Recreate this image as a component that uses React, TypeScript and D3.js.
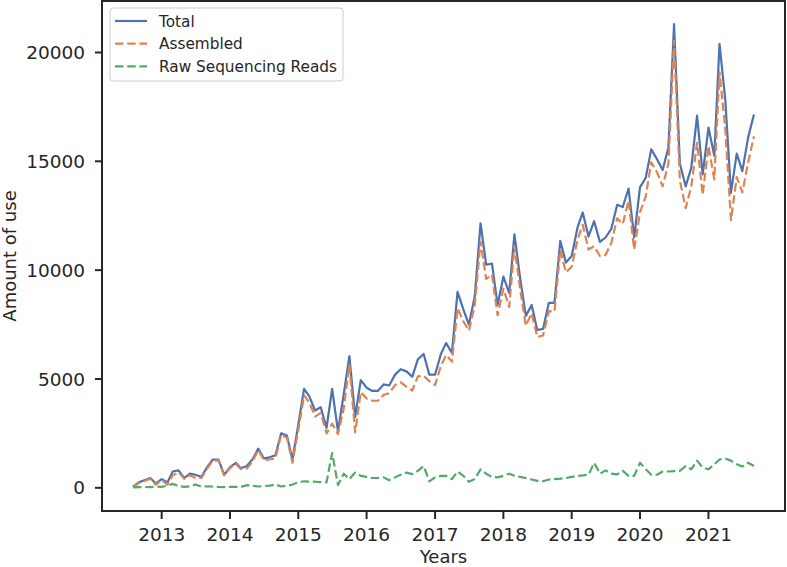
import React from "react";
import * as d3 from "d3";

const startMonth = new Date(2012, 7, 1);
const endMonth = new Date(2021, 9, 1);
const months: Date[] = d3.timeMonth.range(startMonth, endMonth);

const totalValues = [
  50, 250, 350, 450, 200, 400, 250, 750, 800, 450, 650, 600, 500, 950, 1300, 1300, 600, 950, 1150, 900,
  1000, 1300, 1800, 1350, 1400, 1500, 2500, 2400, 1300, 2900, 4550, 4200, 3550, 3700, 2750, 4550, 2600, 4300, 6050, 3250,
  4950, 4600, 4450, 4450, 4750, 4700, 5200, 5450, 5350, 5100, 5900, 6150, 5200, 5200, 6150, 6650, 6200, 9000, 8200, 7500,
  8800, 12150, 10250, 10300, 8400, 9700, 8950, 11650, 9600, 7900, 8400, 7250, 7300, 8500, 8500, 11350, 10350, 10650, 11950, 12650,
  11550, 12250, 11300, 11500, 11900, 13000, 12900, 13750, 11500, 13800, 14250, 15550, 15100, 14600, 15650, 21300, 14900, 13850, 14700, 17100,
  14400, 16550, 15250, 20400, 17800, 13550, 15350, 14550, 16100, 17150,
];

const assembledValues = [
  30, 220, 310, 420, 140, 360, 150, 570, 720, 410, 580, 450, 450, 880, 1240, 1260, 570, 910, 1100, 860,
  880, 1200, 1740, 1270, 1300, 1350, 2440, 2300, 1150, 2650, 4250, 3920, 3270, 3440, 2500, 2950, 2470, 3650, 5650, 2550,
  4400, 4100, 4000, 4000, 4270, 4350, 4720, 4850, 4650, 4470, 5120, 5150, 4900, 4720, 5600, 6100, 5800, 8250, 7650, 7220,
  8400, 11300, 9600, 9800, 7920, 9150, 8300, 11100, 9100, 7450, 8020, 6930, 7000, 8120, 8100, 10930, 9900, 10150, 11400, 12080,
  10950, 11100, 10650, 10700, 11250, 12380, 12120, 13200, 10950, 12650, 13400, 14950, 14500, 13850, 14900, 20530, 14120, 12850, 13850, 15850,
  13470, 15700, 14170, 19100, 16450, 12300, 14270, 13570, 14950, 16150,
];

const rawValues = [
  20, 30, 40, 30, 60, 40, 100, 180, 80, 40, 70, 150, 50, 70, 60, 40, 30, 40, 50, 40,
  120, 100, 60, 80, 100, 150, 60, 100, 150, 250, 300, 280, 280, 260, 250, 1600, 130, 650, 400, 700,
  550, 500, 450, 450, 480, 350, 480, 600, 700, 630, 780, 1000, 300, 480, 550, 550, 400, 750, 550, 280,
  400, 850, 650, 500, 480, 550, 650, 550, 500, 450, 380, 320, 300, 380, 400, 420, 450, 500, 550, 570,
  600, 1150, 650, 800, 650, 620, 780, 550, 550, 1150, 850, 600, 600, 750, 750, 770, 780, 1000, 850, 1250,
  930, 850, 1080, 1300, 1350, 1250, 1080, 980, 1150, 1000,
];

const yTickValues = [0, 5000, 10000, 15000, 20000];
const xTickYears = [2013, 2014, 2015, 2016, 2017, 2018, 2019, 2020, 2021];

const seriesNames = ["Total", "Assembled", "Raw Sequencing Reads"];
const seriesColors = ["#4c72b0", "#dd8452", "#55a868"];

const W = 787;
const H = 567;
const left = 102;
const right = 785;
const top = 1;
const bottom = 511;
const FONT = "DejaVu Sans, Verdana, sans-serif";
const TXT = "#262626";

export default function App() {
  const xPad = ((right - left) * 0.05) / 1.1;
  const x = d3
    .scaleTime()
    .domain([months[0], months[months.length - 1]])
    .range([left + xPad, right - xPad]);

  const allVals = [...totalValues, ...assembledValues, ...rawValues];
  const vmin = Math.min(0, d3.min(allVals) as number);
  const vmax = d3.max(allVals) as number;
  const yPad = (vmax - vmin) * 0.05;
  const y = d3.scaleLinear().domain([vmin - yPad, vmax + yPad]).range([bottom, top]);

  const line = d3
    .line<number>()
    .x((_, i) => x(months[i]))
    .y((d) => y(d));

  const series = [
    { name: seriesNames[0], values: totalValues, color: seriesColors[0], dash: "none" },
    { name: seriesNames[1], values: assembledValues, color: seriesColors[1], dash: "8.5,3.7" },
    { name: seriesNames[2], values: rawValues, color: seriesColors[2], dash: "8.5,3.7" },
  ];

  const drawOrder = [2, 1, 0];

  return (
    <svg
      width={W}
      height={H}
      style={{ position: "fixed", left: 0, top: 0, display: "block", background: "#fff" }}
      fontFamily={FONT}
    >
      <rect x={0} y={0} width={W} height={H} fill="#fff" />
      <defs>
        <clipPath id="plotClip">
          <rect x={left} y={top} width={right - left} height={bottom - top} />
        </clipPath>
      </defs>

      <g clipPath="url(#plotClip)">
        {[0, 1, 2].map((k) => {
          const s = series[k];
          return (
            <path
              key={s.name}
              d={line(s.values) || ""}
              fill="none"
              stroke={s.color}
              strokeWidth={2.2}
              strokeDasharray={s.dash}
              strokeLinejoin="round"
            />
          );
        })}
      </g>

      {/* spines */}
      <rect x={left} y={top} width={right - left} height={bottom - top} fill="none" stroke={TXT} strokeWidth={2} />

      {/* y axis ticks */}
      {yTickValues.map((v) => (
        <g key={v}>
          <line x1={left - 7} x2={left} y1={y(v)} y2={y(v)} stroke={TXT} strokeWidth={2} />
          <text x={85} y={y(v)} dy="0.36em" textAnchor="end" fontSize={18.5} fill={TXT}>
            {v}
          </text>
        </g>
      ))}

      {/* x axis ticks */}
      {xTickYears.map((yr) => {
        const xp = x(new Date(yr, 0, 1));
        return (
          <g key={yr}>
            <line x1={xp} x2={xp} y1={bottom} y2={bottom + 8} stroke={TXT} strokeWidth={2} />
            <text x={xp} y={541} textAnchor="middle" fontSize={18.5} fill={TXT}>
              {yr}
            </text>
          </g>
        );
      })}

      {/* axis labels */}
      <text x={(left + right) / 2} y={563} textAnchor="middle" fontSize={18} fill={TXT}>
        Years
      </text>
      <text
        transform={`translate(16, ${(top + bottom) / 2}) rotate(-90)`}
        textAnchor="middle"
        fontSize={18}
        fill={TXT}
      >
        Amount of use
      </text>

      {/* legend */}
      <g>
        <rect x={110} y={8} width={233} height={73} rx={3} fill="#fff" fillOpacity={0.8} stroke="#cccccc" strokeWidth={1} />
        {series.map((s, i) => {
          const ry = 21 + i * 22.7;
          return (
            <g key={s.name}>
              <line x1={115} x2={147} y1={ry} y2={ry} stroke={s.color} strokeWidth={2.2} strokeDasharray={s.dash} />
              <text x={159} y={ry} dy="0.36em" fontSize={15.3} fill={TXT}>
                {s.name}
              </text>
            </g>
          );
        })}
      </g>
    </svg>
  );
}
